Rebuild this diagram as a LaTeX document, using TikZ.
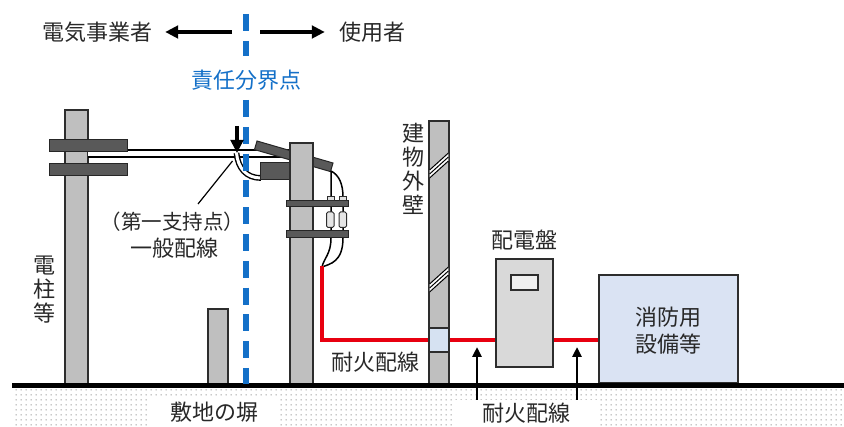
\documentclass[tikz,border=0pt]{standalone}
\usepackage{fontspec}
\setmainfont{Noto Sans CJK JP}
\usetikzlibrary{arrows.meta,patterns.meta}

\definecolor{polegray}{RGB}{191,191,191}
\definecolor{armgray}{RGB}{89,89,89}
\definecolor{edgegray}{RGB}{45,45,45}
\definecolor{boundblue}{RGB}{20,112,200}
\definecolor{firered}{RGB}{232,0,16}
\definecolor{equipblue}{RGB}{218,227,243}
\definecolor{penblue}{RGB}{214,226,242}
\definecolor{panelgray}{RGB}{217,217,217}
\definecolor{txt}{RGB}{40,40,40}

% fine sand-like dots for the ground band
\tikzdeclarepattern{
  name=sanddots,
  type=uncolored,
  bounding box={(0pt,0pt) and (4.6pt,4.6pt)},
  tile size={(4.6pt,4.6pt)},
  code={\fill (2.3pt,2.3pt) circle (0.6pt);}
}

\begin{document}
\begin{tikzpicture}[x=1pt,y=-1pt,
  lbl/.style={text=txt,font=\fontsize{22}{24}\selectfont,inner sep=0pt,align=center},
  pole/.style={fill=polegray,draw=edgegray,line width=1.2pt},
  arm/.style={fill=armgray,draw=black!85,line width=1pt},
  unit/.style={draw=edgegray,line width=1.2pt,inner sep=0pt},
  fireline/.style={firered,line width=4pt},
  pointer/.style={black,line width=2.5pt,-{Triangle[length=10pt,width=9pt]}},
  bigpointer/.style={black,line width=4pt,-{Triangle[length=13pt,width=12.5pt]}},
  cable/.style={draw=black,double=white,double distance=5pt,line width=2pt},
  thincable/.style={draw=black,double=white,double distance=3pt,line width=1.4pt},
  leadwire/.style={black,line width=1.5pt},
  boundary/.style={boundblue,line width=5.5pt,dash pattern=on 17pt off 9.8pt},
]
\useasboundingbox (0,0) rectangle (844,427);

% ground band
\fill[pattern=sanddots,pattern color=black!60] (12,389) rectangle (844,427);
\node[lbl,fill=white,minimum width=128pt,minimum height=30pt] (site) at (214,412) {敷地の塀};
\node[lbl,fill=white,minimum width=148pt,minimum height=27pt] (frbot) at (526,413.5) {耐火配線};

% utility pole with its two crossarms
\draw[pole] (65,110) rectangle (88,385);
\draw[cable] (88,154) -- (290,154);
\draw[arm] (49,140) rectangle (127,152);
\draw[arm] (49,164) rectangle (127,176);
\node[lbl] (utilpole) at (45,290) {電\\柱\\等};

% drip loop at the first support point
\draw[thincable] (236.5,153) .. controls (238,168) and (246,178) .. (261,178);

% customer pole: bracket, slanted arm, pole body
\draw[arm] (257,141) -- (333,163) -- (330.5,171.6) -- (254.5,149.6) -- cycle;
\draw[arm] (260,163) rectangle (290,180);
\draw[pole] (290,143) rectangle (313,385);

% lead wires down the customer pole
\draw[leadwire] (331,171) -- (331,238) .. controls (331,254) and (324,258) .. (322,267);
\draw[leadwire] (331,171) .. controls (339,175) and (343,184) .. (343,197) -- (343,238)
  .. controls (343,262) and (330,264) .. (322,267);
\draw[arm] (286,201) rectangle (348,207);
\draw[arm] (286,231) rectangle (348,238);
\draw[fill=black!12,draw=edgegray,line width=1pt] (327,196.5) rectangle (334,201);
\draw[fill=black!12,draw=edgegray,line width=1pt] (339.5,196.5) rectangle (346.5,201);
\draw[fill=black!10,draw=edgegray,line width=1pt,rounded corners=1.5pt] (326.5,212) rectangle (334,227.5);
\draw[fill=black!10,draw=edgegray,line width=1pt,rounded corners=1.5pt] (339,212) rectangle (346.5,227.5);

% fire-resistant wiring route
\coordinate (riser) at (322,266);
\node[unit,fill=penblue,minimum width=20pt,minimum height=24pt] (pen) at (439,340) {};
\node[unit,fill=panelgray,minimum width=57pt,minimum height=108pt] (panel) at (524.5,313) {};
\node[unit,fill=equipblue,minimum width=139pt,minimum height=108pt] (equip) at (668.5,329) {};
\draw[fireline,line cap=butt,line join=miter] (riser) -- (riser |- pen.west) -- (pen.west);
\draw[fireline] (pen.east) -- (pen.east -| panel.west);
\draw[fireline] (pen.east -| panel.east) -- (pen.east -| equip.west);

% building wall with break marks and sleeve
\draw[pole] (429,121) rectangle (449,385);
\foreach \y in {153,267}{
  \fill[white] (429.6,\y+17) -- (448.4,\y) -- (448.4,\y+8) -- (429.6,\y+25) -- cycle;
  \foreach \d in {0,4,8}
    \draw[black,line width=1pt] (429.6,\y+17+\d) -- (448.4,\y+\d);
}
\node[unit,fill=penblue,minimum width=20pt,minimum height=24pt] at (pen) {};
\node[lbl] (wall) at (413.5,168.5) {建\\物\\外\\壁};
\node[lbl] (frleft) at (375,362) {耐火配線};

% distribution panel and fire equipment
\node[unit,fill=panelgray,minimum width=57pt,minimum height=108pt] at (panel) {};
\node[unit,fill=black!6,minimum width=27pt,minimum height=15pt] (window) at (524.5,282.5) {};
\node[lbl] (panellbl) at (524,240) {配電盤};
\node[unit,fill=equipblue,minimum width=139pt,minimum height=108pt] at (equip) {};
\node[lbl,font=\fontsize{22}{27}\selectfont] (equiplbl) at (668.5,331) {消防用\\設備等};

% site fence
\draw[pole] (208,309) rectangle (228,385);

% ground surface
\draw[black,line width=5.5pt] (12,385.5) -- (844,385.5);

% responsibility demarcation
\draw[boundary] (246,14) -- (246,56);
\draw[boundary] (246,100) -- (246,384);
\node[lbl,text=boundblue] (bnd) at (246,80) {責任分界点};

% first support point
\coordinate (supportpt) at (237,153);
\coordinate (leadend) at (232.5,161);
\draw[bigpointer] (237,126) -- (supportpt);
\node[lbl,font=\fontsize{20.5}{24}\selectfont] (support) at (172.5,222) {（第一支持点）};
\node[lbl] (general) at (174,248) {一般配線};
\draw[black,line width=1.2pt] (198,204) -- (leadend);

% ownership arrows
\node[lbl] (opr) at (97,32) {電気事業者};
\node[lbl] (usr) at (372,32) {使用者};
\coordinate (divtop) at (246,32);
\draw[bigpointer,shorten <=14pt,shorten >=13pt] (divtop) -- (opr);
\draw[bigpointer,shorten <=14pt,shorten >=14pt] (divtop) -- (usr);

% fire-resistant wiring pointers
\coordinate (p1) at (477,400);
\coordinate (p2) at (577,400);
\draw[pointer] (p1) -- (p1 |- 0,347);
\draw[pointer] (p2) -- (p2 |- 0,347);
\end{tikzpicture}
\end{document}
